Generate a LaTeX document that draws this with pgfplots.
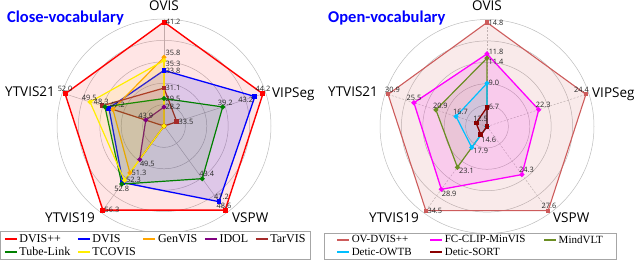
\documentclass[border=0pt]{standalone}
\usepackage{pgfplots}
\pgfplotsset{compat=1.18}
\usepackage{pgfplotstable}
\usepackage{fontspec}
\setmainfont{Open Sans}
\newfontfamily\osans{Open Sans}
\newfontfamily\carl{Carlito}
\newfontfamily\tnr{Liberation Serif}

\definecolor{cDpp}{HTML}{FF0000}
\definecolor{cD}{HTML}{0000FF}
\definecolor{cGen}{HTML}{FFA500}
\definecolor{cIdol}{HTML}{800080}
\definecolor{cTar}{HTML}{A52A2A}
\definecolor{cTube}{HTML}{008000}
\definecolor{cTco}{HTML}{FFEE00}
\definecolor{cOV}{HTML}{CD5C5C}
\definecolor{cFC}{HTML}{FF00FF}
\definecolor{cMV}{HTML}{6B8E23}
\definecolor{cOW}{HTML}{00BFFF}
\definecolor{cDS}{HTML}{8B0000}
\definecolor{gridc}{HTML}{BDBDBD}

% a = direction (deg); lo = value at centre; hi = value at full radius; -1 = no result; aX = label anchor (-1 = no label)
\pgfplotstableread{
a    lo    hi   Dpp  aA  D    aB  Gen  aC  Idol aD  Tar  aE  Tube aF  Tco  aG
90   25.3  41.2 41.2 180 33.8 180 35.8 205 28.2 180 31.1 180 29.5 180 35.3 160
18   31.9  44.2 44.2 270 43.2 20  -1   -1  -1   -1  33.5 180 39.2 240 -1   -1
-54  34.7  48.6 48.6 285 47.2 240 -1   -1  -1   -1  -1   -1  43.4 225 -1   -1
-126 45.0  56.3 56.3 180 52.6 -1  51.3 180 49.5 150 -1   -1  52.8 90  52.3 180
162  42.07 52.0 52.0 270 47.6 -1  47.2 225 43.9 270 48.3 280 48.0 -1  49.5 280
}\tabL

\pgfplotstableread{
a    lo    hi   OV   aA  FC   aB  MV   aC  OW   aD  DS   aE
90   4.87  14.8 14.8 180 11.8 195 11.4 160 9.0  180 6.7  180
18   20.0  24.4 24.4 315 22.3 225 -1   -1  -1   -1  -1   -1
-54  19.9  27.6 27.6 260 24.3 225 -1   -1  -1   -1  -1   -1
-126 12.39 34.5 34.5 180 28.9 150 23.1 160 17.9 160 14.6 150
162  10.22 30.9 30.9 225 25.5 270 20.9 225 16.7 225 12.5 225
}\tabR

\newcommand\radv[1]{((\thisrow{#1}<0)?0:((\thisrow{#1}-\thisrow{lo})/(\thisrow{hi}-\thisrow{lo})))}

\pgfplotsset{
  radarax/.style={x=104pt, y=104pt, xmin=-1.1, xmax=1.1, ymin=-1.1, ymax=1.1,
    hide axis, clip=false, anchor=origin,
    point meta=explicit symbolic,
    nodes near coords={\ifdim\labanc pt<0pt \else\pgfplotspointmeta\fi},
    nodes near coords style={anchor=\labanc, font=\osans\fontsize{7.4}{8}\selectfont,
      text=black!85, inner sep=1.1pt, text opacity=1, fill opacity=1},
    legend cell align=left,
    legend image code/.code={\draw[##1, line width=2pt] (0pt,0pt) -- (12pt,0pt);},
  },
  ser/.style n args={4}{draw=#1, fill=#1, fill opacity=0.1, line width=#4,
    mark=#2, mark size=1.8pt, mark options={solid, fill=#1, draw=#1, fill opacity=1},
    visualization depends on={\thisrow{#3} \as \labanc}},
}

\begin{document}
\begin{tikzpicture}
\path[use as bounding box] (0pt,0pt) rectangle (640pt,-265pt);

% ---------------- left: close vocabulary ----------------
\begin{axis}[radarax, at={(164pt,-126pt)}, legend columns=5,
  legend style={at={(axis cs:-0.082,-1.149)}, anchor=center, draw=black!35, line width=0.6pt,
    fill=white, font=\tnr\fontsize{12}{12}\selectfont, inner xsep=3pt, inner ysep=1pt,
    nodes={inner sep=1.6pt}, /tikz/every even column/.append style={column sep=5pt}}]
\draw[gridc, line width=0.5pt] (axis cs:0,0) circle[radius=21.4pt];
\draw[gridc, line width=0.5pt] (axis cs:0,0) circle[radius=42.8pt];
\draw[gridc, line width=0.5pt] (axis cs:0,0) circle[radius=64.2pt];
\draw[gridc, line width=0.5pt] (axis cs:0,0) circle[radius=85.6pt];
\draw[gridc, line width=0.5pt] (axis cs:0,0) circle[radius=107pt];
\draw[gridc, line width=0.5pt] (axis cs:0,0) -- ++(90:107pt);
\draw[gridc, line width=0.5pt] (axis cs:0,0) -- ++(18:107pt);
\draw[gridc, line width=0.5pt] (axis cs:0,0) -- ++(-54:107pt);
\draw[gridc, line width=0.5pt] (axis cs:0,0) -- ++(-126:107pt);
\draw[gridc, line width=0.5pt] (axis cs:0,0) -- ++(162:107pt);

\addplot[ser={cDpp}{square*}{aA}{1.4pt}] table[x expr={\radv{Dpp}*cos(\thisrow{a})}, y expr={\radv{Dpp}*sin(\thisrow{a})}, meta=Dpp] {\tabL} -- cycle;
\addplot[ser={cD}{square*}{aB}{1.3pt}, fill opacity=0.13] table[x expr={\radv{D}*cos(\thisrow{a})}, y expr={\radv{D}*sin(\thisrow{a})}, meta=D] {\tabL} -- cycle;
\addplot[ser={cGen}{*}{aC}{1.2pt}] table[x expr={\radv{Gen}*cos(\thisrow{a})}, y expr={\radv{Gen}*sin(\thisrow{a})}, meta=Gen] {\tabL} -- cycle;
\addplot[ser={cIdol}{*}{aD}{1.2pt}] table[x expr={\radv{Idol}*cos(\thisrow{a})}, y expr={\radv{Idol}*sin(\thisrow{a})}, meta=Idol] {\tabL} -- cycle;
\addplot[ser={cTar}{square*}{aE}{1.2pt}] table[x expr={\radv{Tar}*cos(\thisrow{a})}, y expr={\radv{Tar}*sin(\thisrow{a})}, meta=Tar] {\tabL} -- cycle;
\addplot[ser={cTube}{*}{aF}{1.2pt}] table[x expr={\radv{Tube}*cos(\thisrow{a})}, y expr={\radv{Tube}*sin(\thisrow{a})}, meta=Tube] {\tabL} -- cycle;
\addplot[ser={cTco}{*}{aG}{1.2pt}] table[x expr={\radv{Tco}*cos(\thisrow{a})}, y expr={\radv{Tco}*sin(\thisrow{a})}, meta=Tco] {\tabL} -- cycle;
\legend{DVIS++, DVIS, GenVIS, IDOL, TarVIS, Tube-Link, TCOVIS}
\end{axis}

% ---------------- right: open vocabulary ----------------
\begin{axis}[radarax, at={(487pt,-126.5pt)}, legend columns=3,
  legend style={at={(axis cs:-0.16,-1.149)}, anchor=center, draw=black!35, line width=0.6pt,
    fill=white, font=\tnr\fontsize{11}{11}\selectfont, inner xsep=12pt, inner ysep=1pt,
    nodes={inner sep=1.6pt}, /tikz/every even column/.append style={column sep=16pt}}]
\draw[gridc, line width=0.5pt] (axis cs:0,0) circle[radius=21.4pt];
\draw[gridc, line width=0.5pt] (axis cs:0,0) circle[radius=42.8pt];
\draw[gridc, line width=0.5pt] (axis cs:0,0) circle[radius=64.2pt];
\draw[gridc, line width=0.5pt] (axis cs:0,0) circle[radius=85.6pt];
\draw[gridc, line width=0.5pt] (axis cs:0,0) circle[radius=107pt];
\draw[gridc, line width=0.5pt, dash pattern=on 2pt off 1.5pt] (axis cs:0,0) -- ++(90:107pt);
\draw[gridc, line width=0.5pt, dash pattern=on 2pt off 1.5pt] (axis cs:0,0) -- ++(18:107pt);
\draw[gridc, line width=0.5pt, dash pattern=on 2pt off 1.5pt] (axis cs:0,0) -- ++(-54:107pt);
\draw[gridc, line width=0.5pt, dash pattern=on 2pt off 1.5pt] (axis cs:0,0) -- ++(-126:107pt);
\draw[gridc, line width=0.5pt, dash pattern=on 2pt off 1.5pt] (axis cs:0,0) -- ++(162:107pt);

\addplot[ser={cOV}{square*}{aA}{1.1pt}, fill opacity=0.13, mark size=1.5pt] table[x expr={\radv{OV}*cos(\thisrow{a})}, y expr={\radv{OV}*sin(\thisrow{a})}, meta=OV] {\tabR} -- cycle;
\addplot[ser={cFC}{*}{aB}{1.3pt}, fill opacity=0.13] table[x expr={\radv{FC}*cos(\thisrow{a})}, y expr={\radv{FC}*sin(\thisrow{a})}, meta=FC] {\tabR} -- cycle;
\addplot[ser={cMV}{*}{aC}{1.2pt}] table[x expr={\radv{MV}*cos(\thisrow{a})}, y expr={\radv{MV}*sin(\thisrow{a})}, meta=MV] {\tabR} -- cycle;
\addplot[ser={cOW}{*}{aD}{1.2pt}] table[x expr={\radv{OW}*cos(\thisrow{a})}, y expr={\radv{OW}*sin(\thisrow{a})}, meta=OW] {\tabR} -- cycle;
\addplot[ser={cDS}{square*}{aE}{1.3pt}] table[x expr={\radv{DS}*cos(\thisrow{a})}, y expr={\radv{DS}*sin(\thisrow{a})}, meta=DS] {\tabR} -- cycle;
\legend{OV-DVIS++, FC-CLIP-MinVIS, MindVLT, Detic-OWTB, Detic-SORT}
\end{axis}

% ---------------- titles and axis names ----------------
\begin{scope}[every node/.style={inner sep=0pt}]
\node[anchor=base west, font=\carl\bfseries\fontsize{16.5}{17}\selectfont, text=blue] at (7pt,-23pt) {Close-vocabulary};
\node[anchor=base west, font=\carl\bfseries\fontsize{16.5}{17}\selectfont, text=blue] at (328pt,-23pt) {Open-vocabulary};
\begin{scope}[every node/.append style={font=\osans\fontsize{13.5}{14}\selectfont}]
\node[anchor=base] at (164pt,-10.5pt) {OVIS};
\node[anchor=base west] at (272pt,-97pt) {VIPSeg};
\node[anchor=base west] at (5pt,-96pt) {YTVIS21};
\node[anchor=base west] at (45pt,-222pt) {YTVIS19};
\node[anchor=base west] at (232pt,-222pt) {VSPW};
\node[anchor=base] at (487pt,-10.5pt) {OVIS};
\node[anchor=base west] at (592pt,-97pt) {VIPSeg};
\node[anchor=base west] at (328pt,-96pt) {YTVIS21};
\node[anchor=base west] at (369pt,-222pt) {YTVIS19};
\node[anchor=base west] at (553pt,-222pt) {VSPW};
\end{scope}
\end{scope}
\end{tikzpicture}
\end{document}
